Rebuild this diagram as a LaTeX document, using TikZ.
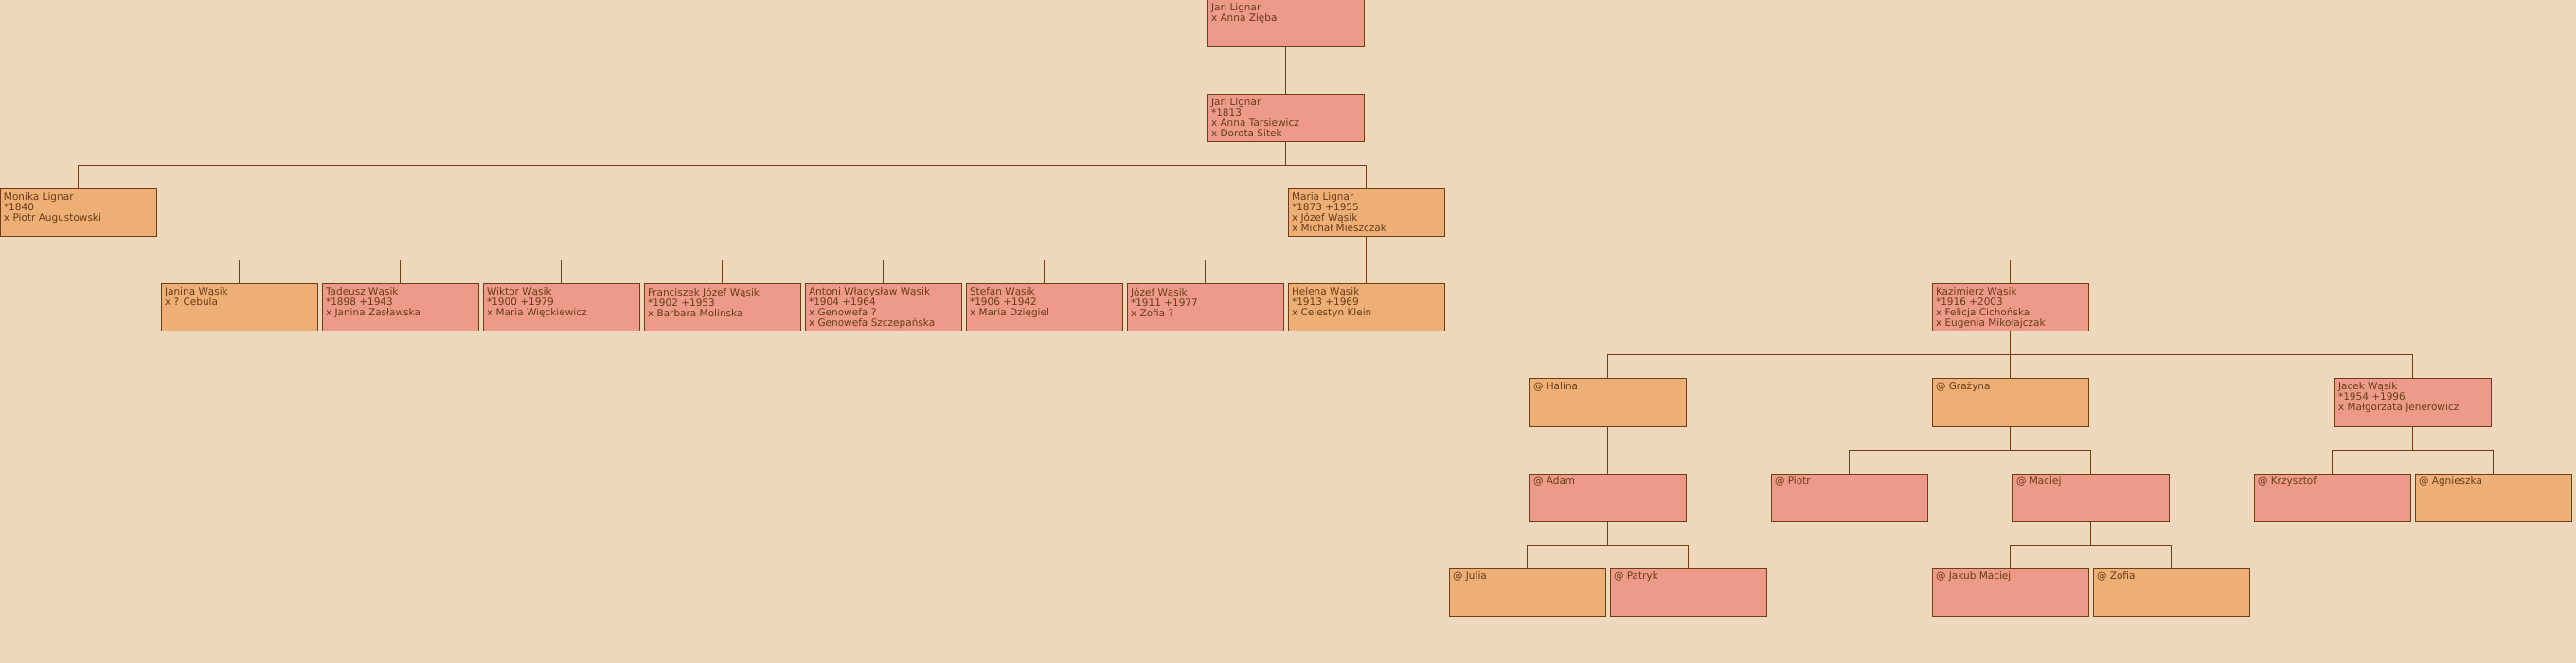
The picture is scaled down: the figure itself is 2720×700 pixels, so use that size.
\documentclass[tikz,border=0pt]{standalone}
\usepackage{fontspec}
\setmainfont{DejaVu Sans}
\usepackage{tikz}
\usetikzlibrary{positioning}

\definecolor{paper}{RGB}{238,216,187}
\definecolor{male}{RGB}{237,154,138}
\definecolor{female}{RGB}{237,175,117}
\definecolor{ink}{RGB}{104,60,22}
\definecolor{wood}{RGB}{112,62,20}

\newcommand{\card}[1]{\parbox[b][42pt][t]{157pt}{\raggedright #1}}

\begin{document}
\begin{tikzpicture}[x=1pt, y=-1pt, node distance=50pt]
  \tikzstyle{box}=[rectangle, draw=wood, line width=1pt, anchor=north west, inner sep=4pt, outer sep=0pt,
    minimum width=165pt, minimum height=50pt, text=ink, font=\fontsize{10.5}{11}\selectfont]
  \tikzstyle{man}=[box, fill=male]
  \tikzstyle{woman}=[box, fill=female]
  \tikzstyle{link}=[draw=wood, line width=1pt]

  \fill[paper] (0,0) rectangle (2720,700);
  \useasboundingbox (0,0) rectangle (2720,700);

  % generations 1-2
  \node[man] (jan0) at (1275,0) {\card{Jan Lignar\\x Anna Zięba}};
  \node[man, below=of jan0] (jan1) {\card{Jan Lignar\\{*}1813\\x Anna Tarsiewicz\\x Dorota Sitek}};

  % generation 3
  \node[woman] (monika) at (0,200) {\card{Monika Lignar\\{*}1840\\x Piotr Augustowski}};
  \node[woman] (maria) at (1360,200) {\card{Maria Lignar\\{*}1873 +1955\\x Józef Wąsik\\x Michał Mieszczak}};

  % generation 4
  \node[woman] (janina) at (170,300) {\card{Janina Wąsik\\x ? Cebula}};
  \node[man, right=5pt of janina] (tadeusz) {\card{Tadeusz Wąsik\\{*}1898 +1943\\x Janina Zasławska}};
  \node[man, right=5pt of tadeusz] (wiktor) {\card{Wiktor Wąsik\\{*}1900 +1979\\x Maria Więckiewicz}};
  \node[man, right=5pt of wiktor] (franciszek) {\card{Franciszek Józef Wąsik\\{*}1902 +1953\\x Barbara Molinska}};
  \node[man, right=5pt of franciszek] (antoni) {\card{Antoni Władysław Wąsik\\{*}1904 +1964\\x Genowefa ?\\x Genowefa Szczepańska}};
  \node[man, right=5pt of antoni] (stefan) {\card{Stefan Wąsik\\{*}1906 +1942\\x Maria Dzięgiel}};
  \node[man, right=5pt of stefan] (jozef) {\card{Józef Wąsik\\{*}1911 +1977\\x Zofia ?}};
  \node[woman, right=5pt of jozef] (helena) {\card{Helena Wąsik\\{*}1913 +1969\\x Celestyn Klein}};
  \node[man] (kazimierz) at (2040,300) {\card{Kazimierz Wąsik\\{*}1916 +2003\\x Felicja Cichońska\\x Eugenia Mikołajczak}};

  % generation 5
  \node[woman] (halina) at (1615,400) {\card{@ Halina}};
  \node[woman] (grazyna) at (2040,400) {\card{@ Grażyna}};
  \node[man] (jacek) at (2465,400) {\card{Jacek Wąsik\\{*}1954 +1996\\x Małgorzata Jenerowicz}};

  % generation 6
  \node[man, below=of halina] (adam) {\card{@ Adam}};
  \node[man] (piotr) at (1870,500) {\card{@ Piotr}};
  \node[man] (maciej) at (2125,500) {\card{@ Maciej}};
  \node[man] (krzysztof) at (2380,500) {\card{@ Krzysztof}};
  \node[woman, right=5pt of krzysztof] (agnieszka) {\card{@ Agnieszka}};

  % generation 7
  \node[woman] (julia) at (1530,600) {\card{@ Julia}};
  \node[man, right=5pt of julia] (patryk) {\card{@ Patryk}};
  \node[man] (jakub) at (2040,600) {\card{@ Jakub Maciej}};
  \node[woman, right=5pt of jakub] (zofia) {\card{@ Zofia}};

  % lines of descent
  \draw[link] (jan0) -- (jan1);
  \foreach \c in {monika,maria}
    \draw[link] (jan1.south) -- ++(0,25) -| (\c.north);
  \foreach \c in {janina,tadeusz,wiktor,franciszek,antoni,stefan,jozef,helena,kazimierz}
    \draw[link] (maria.south) -- ++(0,25) -| (\c.north);
  \foreach \c in {halina,grazyna,jacek}
    \draw[link] (kazimierz.south) -- ++(0,25) -| (\c.north);
  \draw[link] (halina) -- (adam);
  \foreach \c in {piotr,maciej}
    \draw[link] (grazyna.south) -- ++(0,25) -| (\c.north);
  \foreach \c in {krzysztof,agnieszka}
    \draw[link] (jacek.south) -- ++(0,25) -| (\c.north);
  \foreach \c in {julia,patryk}
    \draw[link] (adam.south) -- ++(0,25) -| (\c.north);
  \foreach \c in {jakub,zofia}
    \draw[link] (maciej.south) -- ++(0,25) -| (\c.north);
\end{tikzpicture}
\end{document}
